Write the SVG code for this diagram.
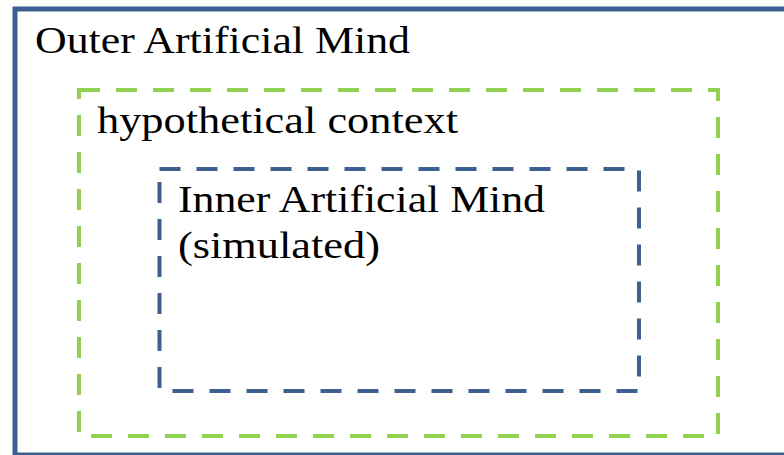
<svg xmlns="http://www.w3.org/2000/svg" width="784" height="455" viewBox="0 0 784 455">
<style>
.lbl{font-family:"Liberation Serif","DejaVu Serif",serif;font-size:38px;fill:#000}
.dash{fill:none;stroke-width:4;stroke-dasharray:21 16}
</style>
<rect width="784" height="455" fill="#fff"/>
<g id="outer">
<rect x="15" y="9" width="790" height="446" fill="none" stroke="#3c6191" stroke-width="5"/>
<text class="lbl" x="35" y="53" textLength="375" lengthAdjust="spacingAndGlyphs">Outer Artificial Mind</text>
</g>
<g id="hypothetical">
<rect class="dash" x="79" y="90" width="639" height="346" stroke="#92d050"/>
<text class="lbl" x="97" y="133" textLength="361" lengthAdjust="spacingAndGlyphs">hypothetical context</text>
</g>
<g id="inner">
<rect class="dash" x="159.5" y="169" width="479.5" height="222" stroke="#3c6191"/>
<text class="lbl" x="178" y="212" textLength="367" lengthAdjust="spacingAndGlyphs">Inner Artificial Mind</text>
<text class="lbl" x="178" y="258" textLength="202" lengthAdjust="spacingAndGlyphs">(simulated)</text>
</g>
<g id="connectors"></g>
</svg>
